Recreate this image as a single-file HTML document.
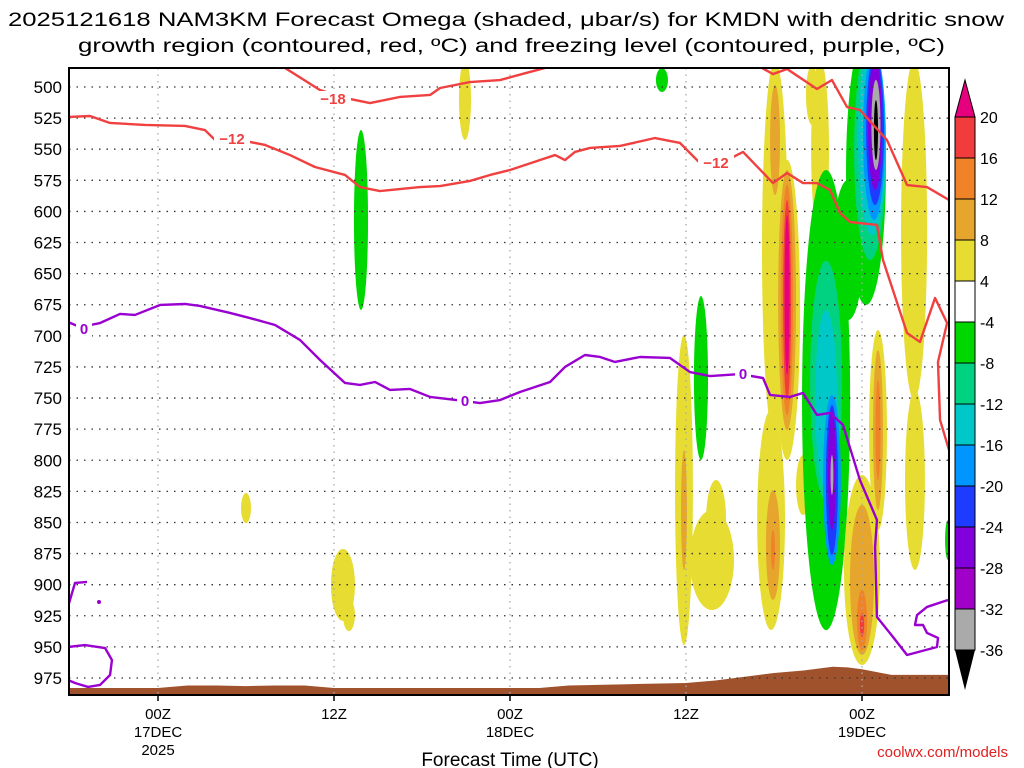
<!DOCTYPE html>
<html><head><meta charset="utf-8"><style>
html,body{margin:0;padding:0;background:#fff;}
svg{display:block;font-family:"Liberation Sans",sans-serif;}
</style></head><body>
<svg id="chart" width="1024" height="768" viewBox="0 0 1024 768" xmlns="http://www.w3.org/2000/svg">
<text x="8" y="26" font-size="19" textLength="996" lengthAdjust="spacingAndGlyphs">2025121618 NAM3KM Forecast Omega (shaded, μbar/s) for KMDN with dendritic snow</text>
<text x="78" y="52" font-size="19" textLength="867" lengthAdjust="spacingAndGlyphs">growth region (contoured, red, ºC) and freezing level (contoured, purple, ºC)</text>
<defs><clipPath id="plotclip"><rect x="69" y="68" width="880" height="627"/></clipPath></defs>
<g id="plot" clip-path="url(#plotclip)"></g>
<g id="axes"></g>
<g id="cbar"></g>
<text x="510" y="766" font-size="19" text-anchor="middle">Forecast Time (UTC)</text>
<text x="1008" y="757" font-size="15" fill="#e02020" text-anchor="end">coolwx.com/models</text>
</svg>
<script>
const yTicks=[500,525,550,575,600,625,650,675,700,725,750,775,800,825,850,875,900,925,950,975];
const xTickHours=[0,12,24,36,48];
const xTickLabels=[["00Z","17DEC","2025"],["12Z"],["00Z","18DEC"],["12Z"],["00Z","19DEC"]];
const cbarLevels=[20,16,12,8,4,-4,-8,-12,-16,-20,-24,-28,-32,-36];
// shaded omega blobs: center hour, center pressure, half-width hours, half-height hPa, value
const blobHour=[20.93,13.84,34.36,6.0,12.61,13.02,37.02,35.86,35.86,37.77,38.05,42.07,42.07,42.89,42.89,42.89,42.89,42.89,41.8,41.93,41.93,43.98,45.14,44.59,45.55,47.05,45.55,45.55,45.95,45.95,45.95,45.95,48.27,48.55,48.68,48.82,48.89,48.89,48.95,48.95,48.0,48.0,48.0,48.0,49.09,49.09,49.09,51.55,51.61,53.86];
const blobP=[510.4,606.9,494.4,838.4,900.2,924.4,733.9,823.9,840,880.2,848,631.0,542.6,679.2,671.2,671.2,671.2,667.2,848.0,868.1,872.1,819.9,550.6,506.4,751.6,631.0,736.0,751.6,815.9,815.9,807.8,811.8,566.7,550.6,542.6,538.6,534.6,530.5,530.5,534.6,888.2,896.2,928.4,932.4,775.7,775.7,775.7,614.9,815.9,864.1];
const blobDH=[0.41,0.48,0.41,0.34,0.82,0.41,0.48,0.61,0.2,1.5,0.68,0.89,0.34,0.89,0.61,0.41,0.27,0.17,0.95,0.48,0.14,0.48,0.61,0.41,1.64,1.02,1.09,0.75,0.61,0.41,0.27,0.1,1.36,1.09,0.95,0.75,0.61,0.48,0.31,0.14,1.23,0.82,0.34,0.14,0.61,0.34,0.17,0.89,0.68,0.2];
const blobDP=[32.1,72.3,9.6,12.1,28.9,12.9,65.9,124.6,48.2,40.2,32.1,152.7,44.2,120.6,104.5,92.4,80.4,64.3,88.4,44.2,16.1,24.1,72.3,24.1,184.9,56.3,96.4,72.3,68.3,60.3,48.2,16.1,108.5,88.4,76.4,68.3,60.3,52.2,36.2,24.1,76.4,60.3,24.1,9.6,80.4,64.3,40.2,136.6,72.3,16.1];
const blobVal=[6,-6,-6,6,6,6,-6,6,10,6,6,6,10,6,10,14,18,22,6,10,14,6,6,6,-6,-6,-10,-14,-18,-22,-28,-34,-6,-10,-14,-18,-22,-28,-34,-40,6,10,14,18,6,10,14,6,6,-6];
// -18 C contour (two pieces)
const c18aHour=[8.66,11.04,12.75,14.45,16.5,18.55,19.23,21.27,23.32,25.36,26.39];
const c18aP=[484.7,502.4,508.8,512.9,508.0,506.4,500.8,496.0,494.4,487.9,484.7];
const c18bHour=[41.18,41.93,42.89,44.93,45.95,46.98,47.86,49.70,51.07,52.43,53.93];
const c18bP=[484.7,489.6,485.5,501.6,494.4,516.1,518.5,542.6,578.8,580.4,590.8];
// -12 C contour
const c12Hour=[-6.14,-4.64,-3.27,-0.89,1.84,3.2,3.89,5.59,7.3,9.0,10.7,12.75,13.77,15.14,17.86,19.23,21.27,22.64,24.0,26.05,27.07,27.75,28.43,29.45,31.5,33.89,35.59,36.95,38.8,39.89,41.93,42.89,43.98,44.93,45.82,46.5,47.18,49.02,49.43,51.07,51.95,52.98,53.8,53.18,53.32,53.93];
const c12P=[524.1,523.3,528.9,530.5,531.3,534.6,542.6,542.6,546.6,554.7,564.3,570.7,580.4,583.6,580.4,579.6,575.5,570.7,566.7,558.7,554.7,558.7,552.2,549.0,547.4,541.0,545.0,561.1,558.7,552.2,577.2,569.1,577.2,577.2,582.8,601.3,608.5,610.9,639.0,697.7,704.9,669.6,689.7,721.0,767.6,791.7];
// 0 C freezing level contour
const c0Hour=[-6.14,-5.32,-3.95,-2.59,-1.57,0.14,1.84,2.86,4.91,6.27,7.98,9.68,11.05,12.75,13.77,14.8,15.82,17.18,18.55,20.93,21.95,23.32,24.68,26.73,27.75,29.11,30.14,31.16,32.86,34.91,36.27,37.64,39.68,41.25,41.73,43.09,43.98,44.93,45.82,46.7,47.86,49.02,48.89,49.02,50.11,51.07,53.11,53.18,52.43,52.16,51.61,51.75,52.43,53.86];
const c0P=[688.9,692.9,689.7,682.4,683.2,675.2,674.4,676.0,681.6,685.7,691.3,703.3,719.4,737.9,739.5,737.1,743.5,742.7,749.1,752.4,754.0,751.6,745.1,737.1,725.0,715.4,717.0,721.0,717.0,717.8,729.1,732.3,730.7,733.9,747.5,749.1,745.9,763.6,762.0,771.6,815.9,848.0,869.7,926.0,942.0,956.5,950.1,942.8,938.8,932.4,932.4,924.4,917.9,912.3];
const c0bHour=[-6.14,-5.66,-4.84];
const c0bP=[917.9,898.6,897.8];
const c0cHour=[-6.14,-4.98,-3.61,-3.14,-3.27,-3.95,-4.77,-5.66,-6.14];
const c0cP=[950.1,948.5,950.9,960.6,972.6,980.6,982.2,979.0,976.6];
// terrain (surface pressure)
const terrHour=[-6,0,2,4,6,8,10,12,20,26,28,32,36,38,40,42,44,46,47,48,50,54];
const terrP=[983,983,981,981,981.5,981,981,983,983,983,981,980,979,977,974,971,969,966,966.5,968,972.5,972.5];

const NS="http://www.w3.org/2000/svg";
const xs=h=>158+h*14.667;
const ys=p=>87+(p-500)*1.2442;
function mk(tag,attrs,parent){const e=document.createElementNS(NS,tag);for(const k in attrs)e.setAttribute(k,attrs[k]);parent.appendChild(e);return e;}
function col(v){
 if(v>20)return"#e6007e";if(v>16)return"#f03c3c";if(v>12)return"#f08228";if(v>8)return"#e6a52d";if(v>4)return"#e6dc32";
 if(v>=-4)return"#ffffff";if(v>=-8)return"#00d700";if(v>=-12)return"#00d282";if(v>=-16)return"#00c8c8";if(v>=-20)return"#0096ff";
 if(v>=-24)return"#1e3cff";if(v>=-28)return"#8200dc";if(v>=-32)return"#a000c8";if(v>=-36)return"#aaaaaa";return"#000000";}
const plot=document.getElementById('plot');
const axes=document.getElementById('axes');
const cbar=document.getElementById('cbar');
const idx=blobVal.map((v,i)=>i).sort((a,b)=>Math.abs(blobVal[a])-Math.abs(blobVal[b]));
idx.forEach(i=>{
 const e=mk('ellipse',{cx:xs(blobHour[i]),cy:ys(blobP[i]),rx:blobDH[i]*14.667,ry:blobDP[i]*1.2442,fill:col(blobVal[i])},plot);
 
 
});
let td=`M${xs(terrHour[0])},700 `+terrHour.map((h,i)=>`L${xs(h)},${ys(terrP[i])}`).join(' ')+` L${xs(terrHour[terrHour.length-1])},700 Z`;
const terr=mk('path',{d:td,fill:'#a0522d'},plot);


yTicks.forEach(p=>{
 const g=mk('line',{x1:69,x2:949,y1:ys(p),y2:ys(p),stroke:'#333','stroke-width':1.3,'stroke-dasharray':'1.5,6'},plot);
 
 
});
xTickHours.forEach(h=>{
 const g=mk('line',{x1:xs(h),x2:xs(h),y1:68,y2:695,stroke:'#aaa','stroke-width':1.3,'stroke-dasharray':'1.5,5'},plot);
 
 
});
function line(hs,ps,color,name){
 const d=hs.map((h,i)=>(i?'L':'M')+xs(h)+','+ys(ps[i])).join(' ');
 const e=mk('path',{d:d,fill:'none',stroke:color,'stroke-width':2.4,'stroke-linejoin':'round'},plot);
 
 
}
line(c18aHour,c18aP,'#f04040','contour-minus18-a');
line(c18bHour,c18bP,'#f04040','contour-minus18-b');
line(c12Hour,c12P,'#f04040','contour-minus12');
line(c0Hour,c0P,'#9a00d0','freezing-level');
line(c0bHour,c0bP,'#9a00d0','freezing-level-b');
line(c0cHour,c0cP,'#9a00d0','freezing-level-c');
const dot=mk('circle',{cx:99,cy:602,r:2,fill:'#9a00d0'},plot);


function clabel(x,y,t,c,name){
 const r=mk('rect',{x:x-(t.length*5+3),y:y-8,width:t.length*10+6,height:16,fill:'#fff'},plot);
 
 
 const e=mk('text',{x:x,y:y+5,'font-size':15,'font-weight':'bold',fill:c,'text-anchor':'middle'},plot);
 e.textContent=t;
 
 
}
clabel(333,99,'−18','#f04040','contour-label');
clabel(232,139,'−12','#f04040','contour-label');
clabel(716,163,'−12','#f04040','contour-label');
clabel(84,329,'0','#9a00d0','contour-label');
clabel(465,401,'0','#9a00d0','contour-label');
clabel(743,374,'0','#9a00d0','contour-label');
const fr=mk('rect',{x:69,y:68,width:880,height:627,fill:'none',stroke:'#000','stroke-width':2},axes);


yTicks.forEach(p=>{
 const t=mk('text',{x:62,y:ys(p)+6,'font-size':17,'text-anchor':'end'},axes);
 t.textContent=p;
 
 
});
xTickHours.forEach((h,i)=>{
 const tk=mk('line',{x1:xs(h),x2:xs(h),y1:695,y2:701,stroke:'#000','stroke-width':1.5},axes);
 
 
 xTickLabels[i].forEach((s,j)=>{
  const t=mk('text',{x:xs(h),y:719+j*18,'font-size':15,'text-anchor':'middle'},axes);
  t.textContent=s;
  
  
 });
});
const cbTop=117,cbStep=41;
const cbCols=[18,14,10,6,0,-6,-10,-14,-18,-22,-26,-30,-34];
cbCols.forEach((v,i)=>{
 const r=mk('rect',{x:955,y:cbTop+i*cbStep,width:20,height:cbStep,fill:col(v),stroke:'#000','stroke-width':1},cbar);
 
 
});
const tt=mk('polygon',{points:`955,${cbTop} 975,${cbTop} 965,80`,fill:col(22),stroke:'#000','stroke-width':1},cbar);


const tb=mk('polygon',{points:`955,${cbTop+13*cbStep} 975,${cbTop+13*cbStep} 965,690`,fill:'#000'},cbar);


cbarLevels.forEach((v,i)=>{
 const y=cbTop+i*cbStep;
 const t=mk('text',{x:980,y:y+6,'font-size':16},cbar);
 t.textContent=v;
 
 
});
</script>
</body></html>
